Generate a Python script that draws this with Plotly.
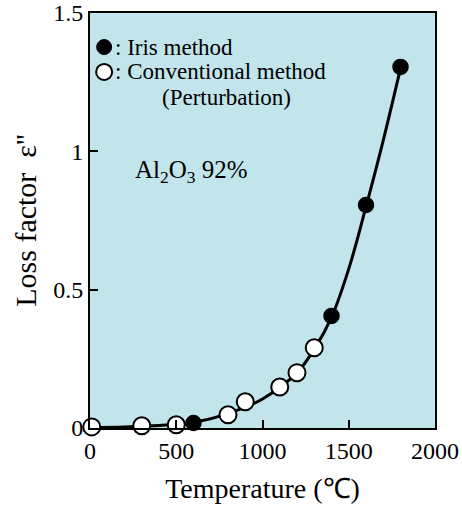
import plotly.graph_objects as go

# Data
iris_temp = [600, 1400, 1600, 1800]
iris_loss = [0.018, 0.405, 0.806, 1.305]

conv_temp = [10, 300, 500, 800, 900, 1100, 1200, 1300]
conv_loss = [0.004, 0.008, 0.012, 0.048, 0.095, 0.148, 0.20, 0.29]

curve_temp = [0, 200, 400, 600, 800, 1000, 1200, 1300, 1400, 1500, 1600, 1700, 1800]
curve_loss = [0.002, 0.004, 0.009, 0.02, 0.052, 0.105, 0.20, 0.285, 0.40, 0.575, 0.80, 1.04, 1.30]

x_ticks = [0, 500, 1000, 1500, 2000]
y_ticks = [0, 0.5, 1, 1.5]

legend_labels = [": Iris method", ": Conventional method", "(Perturbation)"]

FONT = "Liberation Serif, Times New Roman, serif"

fig = go.Figure()
fig.add_trace(go.Scatter(
    x=curve_temp, y=curve_loss, mode="lines", line=dict(color="black", width=3, shape="spline"),
    showlegend=False, hoverinfo="skip", cliponaxis=False))
fig.add_trace(go.Scatter(
    x=iris_temp, y=iris_loss, mode="markers", name="Iris method", showlegend=False,
    marker=dict(size=15, color="black", line=dict(color="black", width=1.5)), cliponaxis=False))
fig.add_trace(go.Scatter(
    x=conv_temp, y=conv_loss, mode="markers", name="Conventional method (Perturbation)",
    showlegend=False,
    marker=dict(size=17, color="white", line=dict(color="black", width=2)), cliponaxis=False))

# Manual legend (symbols + text)
W, H = 345.0, 415.0
def circ(cx, cy, r, fill, lw):
    fig.add_shape(type="circle", xref="paper", yref="paper",
                  x0=cx - r / W, x1=cx + r / W, y0=cy - r / H, y1=cy + r / H,
                  fillcolor=fill, line=dict(color="black", width=lw))

circ(0.041, 0.918, 7.5, "black", 1)
circ(0.041, 0.858, 8, "white", 2)

fig.add_annotation(x=0.068, y=0.918, xref="paper", yref="paper", xanchor="left", yanchor="middle",
                   text=legend_labels[0], showarrow=False, font=dict(family=FONT, size=23, color="black"))
fig.add_annotation(x=0.068, y=0.858, xref="paper", yref="paper", xanchor="left", yanchor="middle",
                   text=legend_labels[1], showarrow=False, font=dict(family=FONT, size=23, color="black"))
fig.add_annotation(x=0.203, y=0.796, xref="paper", yref="paper", xanchor="left", yanchor="middle",
                   text=legend_labels[2], showarrow=False, font=dict(family=FONT, size=23, color="black"))

fig.add_annotation(x=0.293, y=0.617, xref="paper", yref="paper", xanchor="center", yanchor="middle",
                   text="Al<sub>2</sub>O<sub>3</sub> 92%", showarrow=False,
                   font=dict(family=FONT, size=25, color="black"))

fig.update_layout(
    width=462, height=515,
    margin=dict(l=90, r=27, t=13, b=87, autoexpand=False),
    paper_bgcolor="white", plot_bgcolor="#C1E5EB",
    font=dict(family=FONT, size=24, color="black"),
    showlegend=False,
    xaxis=dict(range=[0, 2000], tickvals=x_ticks, ticks="inside", ticklen=8, tickwidth=1.5,
               tickcolor="black", showline=True, linecolor="black", linewidth=2, mirror=True,
               showgrid=False, zeroline=False, tickfont=dict(family=FONT, size=24), automargin=False,
               title=dict(text="Temperature (℃)", font=dict(family=FONT, size=28), standoff=16)),
    yaxis=dict(range=[0, 1.5], tickvals=y_ticks, ticks="inside", ticklen=8, tickwidth=1.5,
               tickcolor="black", showline=True, linecolor="black", linewidth=2, mirror=True,
               showgrid=False, zeroline=False, tickfont=dict(family=FONT, size=24), automargin=False,
               title=dict(text="Loss factor\u00a0\u00a0ε''", font=dict(family=FONT, size=30), standoff=8)),
)

fig.write_html("out.html")
